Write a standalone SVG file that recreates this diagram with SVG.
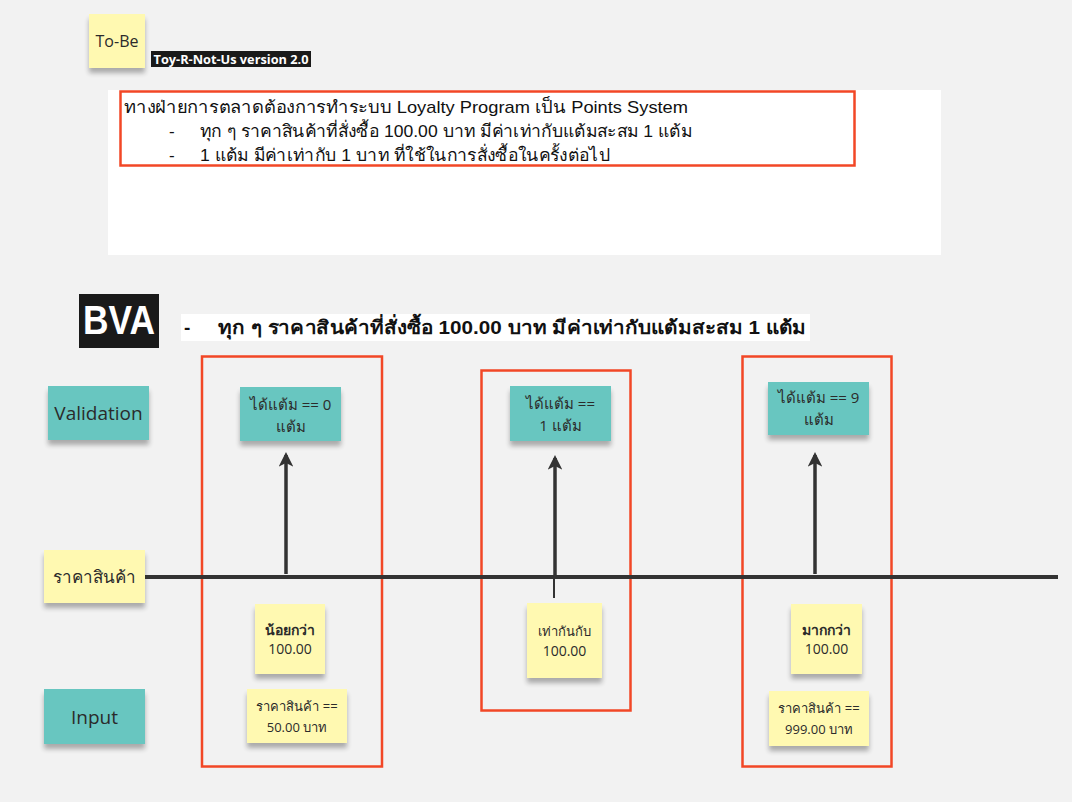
<svg xmlns="http://www.w3.org/2000/svg" width="1072" height="802" viewBox="0 0 1072 802">
<style>
.sticky-y{fill:#fff9b1}
.sticky-t{fill:#67c6c0}
.t{font-family:"Open Sans","Noto Sans","DejaVu Sans",sans-serif;fill:#2b2b2b;text-anchor:middle}
.doc{font-family:"Liberation Sans",Arial,sans-serif;fill:#111}
.red{fill:none;stroke:#f24726;stroke-width:2.5}
.axis{stroke:#333;stroke-width:4;fill:none}
.arr{stroke:#333;stroke-width:3.5;fill:none;marker-end:url(#ah)}
</style>
<defs>
<filter id="sh" x="-20%" y="-20%" width="140%" height="160%">
<feGaussianBlur in="SourceAlpha" stdDeviation="2.5"/>
<feOffset dx="0" dy="5" result="b"/>
<feComponentTransfer><feFuncA type="linear" slope="0.3"/></feComponentTransfer>
<feMerge><feMergeNode/><feMergeNode in="SourceGraphic"/></feMerge>
</filter>
<marker id="ah" viewBox="0 0 10 10" refX="8" refY="5" markerWidth="4.2" markerHeight="4.2" orient="auto" markerUnits="strokeWidth">
<path d="M0,0 L10,5 L0,10 L2.5,5 z" fill="#333"/>
</marker>
</defs>
<rect width="1072" height="802" fill="#f2f2f2"/>

<g id="tobe">
<rect class="sticky-y" x="89" y="14" width="56" height="54" filter="url(#sh)"/>
<text class="t" x="117" y="47" font-size="16">To-Be</text>
</g>
<g id="version">
<rect x="151" y="51" width="160" height="16" fill="#1a1a1a"/>
<text x="231" y="63.5" font-family="'Open Sans','Liberation Sans',sans-serif" font-weight="bold" font-size="12.5" fill="#fff" text-anchor="middle" textLength="155" lengthAdjust="spacingAndGlyphs">Toy-R-Not-Us version 2.0</text>
</g>

<g id="requirement">
<rect x="108" y="90" width="833" height="165" fill="#ffffff"/>
<rect class="red" x="120.5" y="91.5" width="734" height="74"/>
<text class="doc" x="124" y="113" font-size="17" textLength="564" lengthAdjust="spacingAndGlyphs">ทางฝ่ายการตลาดต้องการทำระบบ Loyalty Program เป็น Points System</text>
<text class="doc" x="169" y="137" font-size="17">-</text>
<text class="doc" x="200" y="137" font-size="17" textLength="492" lengthAdjust="spacingAndGlyphs">ทุก ๆ ราคาสินค้าที่สั่งซื้อ 100.00 บาท มีค่าเท่ากับแต้มสะสม 1 แต้ม</text>
<text class="doc" x="169" y="161" font-size="17">-</text>
<text class="doc" x="200" y="161" font-size="17" textLength="410" lengthAdjust="spacingAndGlyphs">1 แต้ม มีค่าเท่ากับ 1 บาท ที่ใช้ในการสั่งซื้อในครั้งต่อไป</text>
</g>

<g id="bva">
<rect x="79" y="294" width="80" height="54" fill="#1a1a1a"/>
<text x="119" y="334" font-family="'Liberation Sans',Arial,sans-serif" font-weight="bold" font-size="40" fill="#fff" text-anchor="middle" textLength="72" lengthAdjust="spacingAndGlyphs">BVA</text>
</g>
<g id="bva-rule">
<rect x="181" y="314" width="629" height="27" fill="#ffffff"/>
<text class="doc" x="184" y="334" font-size="19" font-weight="bold">-</text>
<text class="doc" x="218" y="334" font-size="19" font-weight="bold" textLength="588" lengthAdjust="spacingAndGlyphs">ทุก ๆ ราคาสินค้าที่สั่งซื้อ 100.00 บาท มีค่าเท่ากับแต้มสะสม 1 แต้ม</text>
</g>

<g id="lbl-validation">
<rect class="sticky-t" x="48" y="386" width="101" height="54" filter="url(#sh)"/>
<text class="t" x="98.5" y="420" font-size="19">Validation</text>
</g>
<g id="lbl-price">
<rect class="sticky-y" x="44" y="550" width="101" height="53" filter="url(#sh)"/>
<text class="t" x="94.5" y="583" font-size="17">ราคาสินค้า</text>
</g>
<g id="lbl-input">
<rect class="sticky-t" x="44" y="689" width="101" height="55" filter="url(#sh)"/>
<text class="t" x="94.5" y="724" font-size="19">Input</text>
</g>

<g id="frame1"><rect class="red" x="202" y="356.5" width="180" height="410"/></g>
<g id="frame2"><rect class="red" x="481.5" y="370.5" width="149" height="340"/></g>
<g id="frame3"><rect class="red" x="742.5" y="356.5" width="149" height="410"/></g>

<g id="connectors">
<line class="axis" x1="145" y1="577" x2="1058" y2="577"/>
<line class="arr" x1="286" y1="574" x2="286" y2="455"/>
<line class="arr" x1="555" y1="577" x2="555" y2="458"/>
<line x1="554" y1="577" x2="554" y2="598" stroke="#333" stroke-width="2"/>
<line class="arr" x1="815" y1="574" x2="815" y2="455"/>
</g>

<g id="val-0">
<rect class="sticky-t" x="240" y="387" width="101" height="54" filter="url(#sh)"/>
<text class="t" x="290.5" y="410" font-size="15">ได้แต้ม == 0</text>
<text class="t" x="290.5" y="432" font-size="15">แต้ม</text>
</g>
<g id="val-1">
<rect class="sticky-t" x="510" y="386" width="101" height="55" filter="url(#sh)"/>
<text class="t" x="560.5" y="409" font-size="15">ได้แต้ม ==</text>
<text class="t" x="560.5" y="431" font-size="15">1 แต้ม</text>
</g>
<g id="val-9">
<rect class="sticky-t" x="768" y="382" width="101" height="53" filter="url(#sh)"/>
<text class="t" x="818.5" y="403" font-size="15">ได้แต้ม == 9</text>
<text class="t" x="818.5" y="425" font-size="15">แต้ม</text>
</g>

<g id="less">
<rect class="sticky-y" x="255" y="604" width="70" height="70" filter="url(#sh)"/>
<text class="t" x="290" y="635" font-size="14" font-weight="bold">น้อยกว่า</text>
<text class="t" x="290" y="654" font-size="14">100.00</text>
</g>
<g id="input-50">
<rect class="sticky-y" x="247" y="689" width="100" height="54" filter="url(#sh)"/>
<text class="t" x="297" y="711" font-size="13">ราคาสินค้า ==</text>
<text class="t" x="297" y="732" font-size="13">50.00 บาท</text>
</g>
<g id="equal">
<rect class="sticky-y" x="527" y="603" width="75" height="75" filter="url(#sh)"/>
<text class="t" x="564.5" y="636" font-size="13">เท่ากันกับ</text>
<text class="t" x="564.5" y="656" font-size="14">100.00</text>
</g>
<g id="more">
<rect class="sticky-y" x="791" y="604" width="71" height="70" filter="url(#sh)"/>
<text class="t" x="826.5" y="635" font-size="14" font-weight="bold">มากกว่า</text>
<text class="t" x="826.5" y="654" font-size="14">100.00</text>
</g>
<g id="input-999">
<rect class="sticky-y" x="769" y="691" width="100" height="55" filter="url(#sh)"/>
<text class="t" x="819" y="713" font-size="13">ราคาสินค้า ==</text>
<text class="t" x="819" y="734" font-size="13">999.00 บาท</text>
</g>
</svg>
